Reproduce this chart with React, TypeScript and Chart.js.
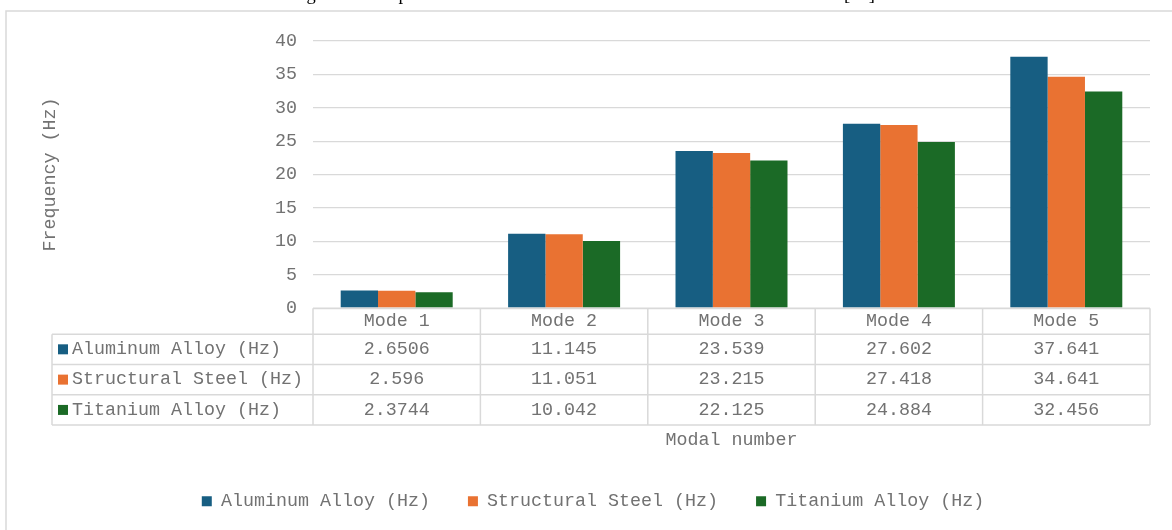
import { useEffect, useRef } from "react";
import { Chart, registerables } from "chart.js";

Chart.register(...registerables);

// Natural frequencies of the first five modes for each material
const modes = ["Mode 1", "Mode 2", "Mode 3", "Mode 4", "Mode 5"];
const aluminumHz = [2.6506, 11.145, 23.539, 27.602, 37.641];
const steelHz = [2.596, 11.051, 23.215, 27.418, 34.641];
const titaniumHz = [2.3744, 10.042, 22.125, 24.884, 32.456];

const seriesNames = ["Aluminum Alloy (Hz)", "Structural Steel (Hz)", "Titanium Alloy (Hz)"];
const seriesColors = ["#175E82", "#E97232", "#1B6A26"];

const yMin = 0;
const yMax = 40;
const yStep = 5;

const yTitle = "Frequency (Hz)";
const xTitle = "Modal number";
const caption = "Figure 7. Comparison of the modal results for the three different materials [21]";

const MONO = '"Liberation Mono", "Courier New", monospace';
const TEXT = "#727272";
const RULE = "#d9d9d9";
const FONT_SIZE = 18.33;

// Outer frame and the figure caption sitting above it
const framePlugin = {
  id: "frame",
  beforeDraw(chart: any) {
    const { ctx } = chart;
    ctx.save();
    ctx.fillStyle = "#ffffff";
    ctx.fillRect(0, 0, chart.width, chart.height);
    ctx.strokeStyle = RULE;
    ctx.lineWidth = 1.5;
    ctx.strokeRect(6, 11, chart.width + 40, chart.height + 40);
    ctx.fillStyle = "#000000";
    ctx.font = '18.5px "Liberation Serif", "Times New Roman", serif';
    ctx.textAlign = "left";
    ctx.textBaseline = "alphabetic";
    ctx.fillText(caption, 291, 0);
    ctx.restore();
  },
};

// Data table under the plot: category header row plus one row per series
const dataTablePlugin = {
  id: "dataTable",
  afterDraw(chart: any) {
    const { ctx, chartArea } = chart;
    const xs = chart.scales.x;
    const labels: string[] = chart.data.labels;
    const datasets = chart.data.datasets;
    const n = labels.length;
    const left = xs.left;
    const right = xs.right;
    const colW = (right - left) / n;
    const top = chartArea.bottom;
    const headerH = 26;
    const rowH = 30.3;
    const labelLeft = 52;
    const bottom = top + headerH + rowH * datasets.length;

    ctx.save();
    ctx.strokeStyle = RULE;
    ctx.lineWidth = 1.5;
    const line = (x1: number, y1: number, x2: number, y2: number) => {
      ctx.beginPath();
      ctx.moveTo(x1, y1);
      ctx.lineTo(x2, y2);
      ctx.stroke();
    };
    line(left, top, right, top);
    for (let r = 0; r <= datasets.length; r++) {
      const y = top + headerH + r * rowH;
      line(labelLeft, y, right, y);
    }
    line(labelLeft, top + headerH, labelLeft, bottom);
    for (let c = 0; c <= n; c++) {
      const x = left + c * colW;
      line(x, top, x, bottom);
    }

    ctx.font = `${FONT_SIZE}px ${MONO}`;
    ctx.fillStyle = TEXT;
    ctx.textBaseline = "middle";
    ctx.textAlign = "center";
    labels.forEach((lab, c) => {
      ctx.fillText(lab, left + (c + 0.5) * colW, top + headerH / 2);
    });

    datasets.forEach((ds: any, r: number) => {
      const cy = top + headerH + (r + 0.5) * rowH;
      ctx.fillStyle = ds.backgroundColor;
      ctx.fillRect(58, cy - 5, 10, 10);
      ctx.fillStyle = TEXT;
      ctx.textAlign = "left";
      ctx.fillText(ds.label, 72, cy);
      ctx.textAlign = "center";
      ds.data.forEach((v: number, c: number) => {
        ctx.fillText(String(v), left + (c + 0.5) * colW, cy);
      });
    });
    ctx.restore();
  },
};

export default function App() {
  const canvasRef = useRef<HTMLCanvasElement | null>(null);

  useEffect(() => {
    const canvas = canvasRef.current;
    if (!canvas) return;
    const values = [aluminumHz, steelHz, titaniumHz];
    const chart = new Chart(canvas, {
      type: "bar",
      data: {
        labels: modes,
        datasets: values.map((data, i) => ({
          label: seriesNames[i],
          data,
          backgroundColor: seriesColors[i],
          borderWidth: 0,
          categoryPercentage: 0.669,
          barPercentage: 1,
        })),
      },
      options: {
        responsive: false,
        animation: false,
        layout: { padding: { left: 36, top: 41, right: 22, bottom: 9.5 } },
        plugins: {
          legend: {
            position: "bottom",
            labels: {
              boxWidth: 10,
              boxHeight: 10,
              padding: 38,
              color: TEXT,
              font: { family: MONO, size: FONT_SIZE },
            },
          },
          tooltip: { enabled: false },
        },
        scales: {
          x: {
            grid: { display: false },
            border: { display: false },
            ticks: { display: false },
            title: {
              display: true,
              text: xTitle,
              color: TEXT,
              font: { family: MONO, size: FONT_SIZE },
              padding: { top: 0, bottom: 3 },
            },
            afterFit(scale: any) {
              scale.height = 146;
            },
          },
          y: {
            min: yMin,
            max: yMax,
            ticks: {
              stepSize: yStep,
              color: TEXT,
              padding: 16,
              font: { family: MONO, size: FONT_SIZE },
            },
            grid: { color: RULE, lineWidth: 1.3, drawTicks: false },
            border: { display: false },
            title: {
              display: true,
              text: yTitle,
              color: TEXT,
              font: { family: MONO, size: FONT_SIZE },
              padding: { top: 3, bottom: 0 },
            },
            afterFit(scale: any) {
              scale.width = 277;
            },
          },
        },
      },
      plugins: [framePlugin, dataTablePlugin],
    } as any);
    return () => chart.destroy();
  }, []);

  return (
    <div
      style={{
        position: "fixed",
        left: 0,
        top: 0,
        width: 1172,
        height: 530,
        background: "#ffffff",
        overflow: "hidden",
      }}
    >
      <canvas ref={canvasRef} width={1172} height={530} style={{ display: "block" }} />
    </div>
  );
}
